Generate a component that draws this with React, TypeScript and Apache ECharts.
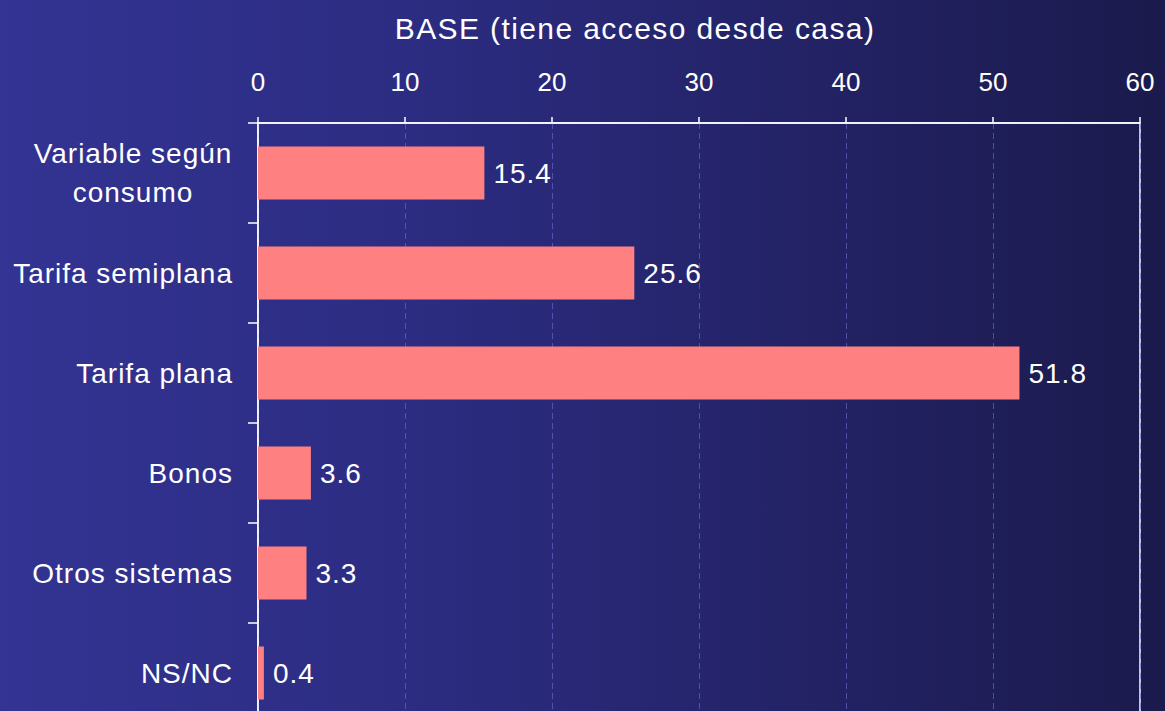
import React, { useEffect, useRef } from "react";
import * as echarts from "echarts";

const chartTitle = "BASE (tiene acceso desde casa)";
const categories = [
  "Variable según\nconsumo",
  "Tarifa semiplana",
  "Tarifa plana",
  "Bonos",
  "Otros sistemas",
  "NS/NC",
];
const values = [15.4, 25.6, 51.8, 3.6, 3.3, 0.4];
const axisMin = 0;
const axisMax = 60;
const axisStep = 10;

const FONT = "'Liberation Sans', Arial, Helvetica, sans-serif";

export default function App() {
  const ref = useRef<HTMLDivElement>(null);

  useEffect(() => {
    document.body.style.margin = "0";
    const chart = echarts.init(ref.current!, null, { renderer: "svg" });
    chart.setOption({
      animation: false,
      backgroundColor: "transparent",
      textStyle: { fontFamily: FONT },
      title: {
        text: chartTitle,
        left: 630,
        top: 8,
        textAlign: "center",
        textStyle: { color: "#ffffff", fontSize: 30, fontWeight: "normal", fontFamily: FONT },
      },
      grid: {
        left: 258,
        top: 123,
        width: 882,
        height: 600,
        show: true,
        borderColor: "#ffffff",
        borderWidth: 1.5,
        backgroundColor: "transparent",
        containLabel: false,
      },
      xAxis: {
        type: "value",
        position: "top",
        min: axisMin,
        max: axisMax,
        interval: axisStep,
        axisLine: { show: true, lineStyle: { color: "#ffffff", width: 1.5 } },
        axisTick: { show: true, length: 6, lineStyle: { color: "#ffffff", width: 1.5 } },
        axisLabel: { color: "#ffffff", fontSize: 26, margin: 28, fontFamily: FONT },
        splitLine: {
          show: true,
          lineStyle: { color: "rgba(110,110,215,0.6)", type: [6, 4], width: 1 },
        },
      },
      yAxis: {
        type: "category",
        inverse: true,
        data: categories,
        axisLine: { show: true, lineStyle: { color: "#ffffff", width: 1.5 } },
        axisTick: { show: true, length: 10, alignWithLabel: false, lineStyle: { color: "#ffffff", width: 1.5 } },
        axisLabel: {
          color: "#ffffff",
          fontSize: 28,
          margin: 25,
          fontFamily: FONT,
          formatter: (v: string) => {
            if (v.indexOf("\n") >= 0) {
              return v
                .split("\n")
                .map((line) => "{c|" + line + "}")
                .join("\n");
            }
            return v;
          },
          rich: {
            c: {
              width: 200,
              align: "center",
              lineHeight: 39,
              fontSize: 28,
              color: "#ffffff",
              fontFamily: FONT,
            },
          },
        },
        splitLine: { show: false },
      },
      series: [
        {
          type: "bar",
          data: values,
          barWidth: 53,
          itemStyle: { color: "#ff8080" },
          label: {
            show: true,
            position: "right",
            distance: 9,
            color: "#ffffff",
            fontSize: 28,
            fontFamily: FONT,
            formatter: (p: any) => p.value.toFixed(1),
          },
        },
      ],
    });
    return () => chart.dispose();
  }, []);

  return (
    <div
      style={{
        position: "absolute",
        left: 0,
        top: 0,
        width: 1165,
        height: 711,
        overflow: "hidden",
        background: "linear-gradient(to right, #333493 0%, #2c2c82 35%, #1b1a4c 100%)",
      }}
    >
      <style>{`
        .chartbox text[style*="30px"] { letter-spacing: 1.4px; }
        .chartbox text[style*="28px"] { letter-spacing: 1px; }
      `}</style>
      <div ref={ref} className="chartbox" style={{ width: 1165, height: 740 }} />
    </div>
  );
}
